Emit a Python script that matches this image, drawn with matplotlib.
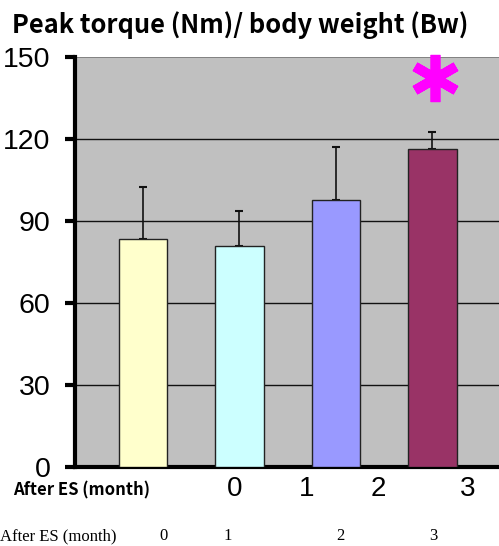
import matplotlib
matplotlib.use("Agg")
import matplotlib.pyplot as plt

# ---- data ----
months = ["0", "1", "2", "3"]
peak_torque = [83.4, 80.9, 97.9, 116.4]
sd_upper = [19.0, 13.0, 19.4, 6.4]
bar_colors = ["#FFFFCC", "#CCFFFF", "#9999FF", "#993366"]
y_ticks = [0, 30, 60, 90, 120, 150]
title = "Peak torque (Nm)/ body weight (Bw)"
x_caption = "After ES (month)"
signif_index = 3
signif_value = 142.5

W, H = 499, 546
fig = plt.figure(figsize=(W / 100, H / 100), dpi=100)
fig.patch.set_facecolor("white")

left, right, top, bottom = 75.3, 499, 57.3, 467.3
ax = fig.add_axes([left / W, 1 - bottom / H, (right - left) / W, (bottom - top) / H])
ax.set_facecolor("#C0C0C0")

x = list(range(len(months)))
ax.bar(x, peak_torque, width=0.5, color=bar_colors, edgecolor="#222222", linewidth=1.0, zorder=3)
ax.errorbar(x, peak_torque, yerr=[[0] * len(sd_upper), sd_upper], fmt="none",
            ecolor="#111111", elinewidth=1.2, capsize=3, capthick=1.5, zorder=2)

# significance asterisk
ax.plot([x[signif_index] + 0.03], [signif_value], marker=(6, 2, 0), markersize=34,
        markeredgewidth=7, color="#FF00FF", zorder=4, clip_on=False)

ax.set_xlim(-0.70, 3.69)
ax.set_ylim(0, 150)
ax.set_yticks(y_ticks)
ax.set_yticklabels([str(v) for v in y_ticks], fontfamily=["Liberation Sans"], fontsize=20.5)
ax.tick_params(axis="y", length=7, width=3, pad=11, direction="out")
ax.set_xticks([])
for v in y_ticks[1:-1]:
    ax.axhline(v, color="#111111", linewidth=1.0, zorder=1)
ax.axhline(150, color="#777777", linewidth=1.2, zorder=1)

for s in ["top", "right"]:
    ax.spines[s].set_visible(False)
ax.spines["left"].set_linewidth(3)
ax.spines["bottom"].set_linewidth(3)

# title
fig.text(12 / W, 1 - 33 / H, title, fontfamily=["Noto Sans CJK JP", "DejaVu Sans"],
         fontsize=18.3, fontweight="bold", ha="left", va="baseline")

# first row of x labels
fig.text(13 / W, 1 - 495 / H, x_caption, fontfamily=["Noto Sans CJK JP", "DejaVu Sans"],
         fontsize=12, fontweight="bold", ha="left", va="baseline")
row1_x = [235, 307, 378, 468]
for lbl, px in zip(months, row1_x):
    fig.text(px / W, 1 - 496 / H, lbl, fontfamily=["Liberation Sans"], fontsize=20,
             ha="center", va="baseline")

# second row of x labels (serif)
fig.text(0 / W, 1 - 540 / H, x_caption, fontfamily=["Liberation Serif"],
         fontsize=12, ha="left", va="baseline")
row2_x = [163, 228, 340, 433]
for lbl, px in zip(months, row2_x):
    fig.text(px / W, 1 - 540 / H, lbl, fontfamily=["Liberation Serif"],
             fontsize=12, ha="center", va="baseline")

fig.savefig("out.png", dpi=100)
